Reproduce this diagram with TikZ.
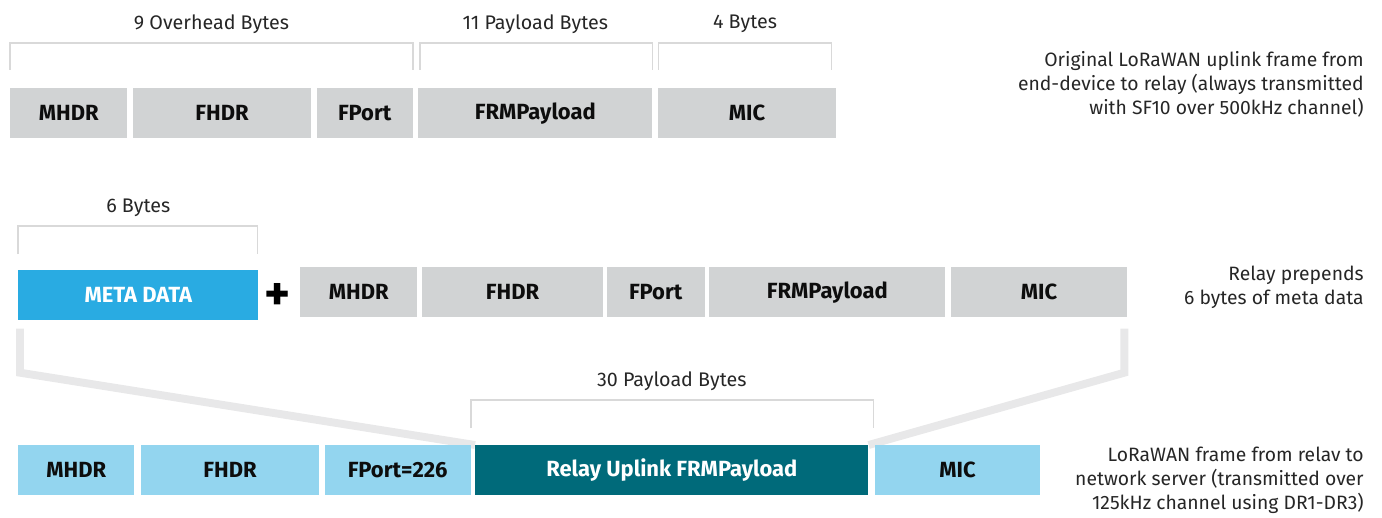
\documentclass[tikz,border=0pt]{standalone}
\usepackage{fontspec}
\setmainfont{Fira Sans}
\usetikzlibrary{positioning,calc,backgrounds}
\definecolor{boxgray}{HTML}{D1D3D4}
\definecolor{metablue}{HTML}{29ABE2}
\definecolor{lightblue}{HTML}{93D5EF}
\definecolor{tealdark}{HTML}{006A7A}
\definecolor{brkgray}{HTML}{D9D9D9}
\definecolor{funnelgray}{HTML}{E8E8E9}

\begin{document}
\begin{tikzpicture}[x=0.02cm, y=-0.02cm,
    field/.style={anchor=north west, inner sep=0pt, minimum height=1cm, font=\fontsize{12.5}{14}\bfseries},
    grayfield/.style={field, fill=boxgray, text=black!95},
    lightfield/.style={field, fill=lightblue, text=black!95},
    metafield/.style={field, fill=metablue, text=white},
    relayfield/.style={field, fill=tealdark, text=white},
    brk/.style={draw=brkgray, line width=0.9pt},
    lbl/.style={font=\fontsize{11.2}{13}\selectfont, text=black!85},
    note/.style={anchor=east, align=right, inner sep=0pt, font=\fontsize{11}{13.6}\selectfont, text=black!85},
    funnel/.style={draw=funnelgray, line width=4.5pt}]
    \useasboundingbox (0,0) rectangle (1382,517);

    % 原始上行帧
    \node[grayfield, minimum width=2.34cm] (t1) at (10,88) {MHDR};
    \node[grayfield, minimum width=3.56cm, right=0.1cm of t1] (t2) {FHDR};
    \node[grayfield, minimum width=1.92cm, right=0.1cm of t2] (t3) {FPort};
    \node[grayfield, minimum width=4.68cm, right=0.1cm of t3] (t4) {FRMPayload};
    \node[grayfield, minimum width=3.56cm, right=0.1cm of t4] (t5) {MIC};

    \draw[brk] ($(t1.north west)+(0,-18)$) |- ($(t3.north east)+(0,-45)$) -- ($(t3.north east)+(0,-18)$);
    \draw[brk] ($(t4.north west)+(2,-18)$) |- ($(t4.north east)+(0,-45)$) -- ($(t4.north east)+(0,-18)$);
    \draw[brk] ($(t5.north west)+(1,-18)$) |- ($(t5.north east)+(-5,-45)$) -- ($(t5.north east)+(-5,-18)$);
    \node[lbl] (over) at ($(t1.north west)!0.5!(t3.north east)+(0,-64)$) {9 Overhead Bytes};
    \node[lbl] (pay1) at ($(t4.north west)!0.5!(t4.north east)+(0,-64)$) {11 Payload Bytes};
    \node[lbl] (mic1) at ($(t5.north west)!0.5!(t5.north east)+(-2,-64)$) {4 Bytes};

    \node[note] (n1) at (1364,84) {Original LoRaWAN uplink frame from\\end-device to relay (always transmitted\\with SF10 over 500kHz channel)};

    % 中继加上元数据
    \node[metafield, minimum width=4.8cm] (m0) at (18,270) {META DATA};
    \node[font=\fontsize{28}{28}\bfseries] (plus) at (278,297) {+};
    \node[grayfield, minimum width=2.34cm] (m1) at (300,267) {MHDR};
    \node[grayfield, minimum width=3.62cm, right=0.08cm of m1] (m2) {FHDR};
    \node[grayfield, minimum width=1.96cm, right=0.06cm of m2] (m3) {FPort};
    \node[grayfield, minimum width=4.72cm, right=0.08cm of m3] (m4) {FRMPayload};
    \node[grayfield, minimum width=3.52cm, right=0.1cm of m4] (m5) {MIC};

    \draw[brk] ($(m0.north west)+(0,-16)$) |- ($(m0.north east)+(-1,-44)$) -- ($(m0.north east)+(-1,-16)$);
    \node[lbl] (meta) at ($(m0.north west)!0.5!(m0.north east)+(0,-62)$) {6 Bytes};

    \node[note] (n2) at (1364,287) {Relay prepends\\6 bytes of meta data};

    % 发往网络服务器的帧
    \node[lightfield, minimum width=2.32cm] (r1) at (18,445) {MHDR};
    \node[lightfield, minimum width=3.56cm, right=0.12cm of r1] (r2) {FHDR};
    \node[lightfield, minimum width=2.92cm, right=0.1cm of r2] (r3) {FPort=226};
    \node[relayfield, minimum width=7.86cm, right=0.08cm of r3] (r4) {Relay Uplink FRMPayload};
    \node[lightfield, minimum width=3.3cm, right=0.12cm of r4] (r5) {MIC};

    \draw[brk] ($(r4.north west)+(-4,-17)$) |- ($(r4.north east)+(5,-45)$) -- ($(r4.north east)+(5,-17)$);
    \node[lbl] (pay2) at ($(r4.north west)!0.5!(r4.north east)+(0,-64)$) {30 Payload Bytes};

    \node[note] (n3) at (1364,480) {LoRaWAN frame from relav to\\network server (transmitted over\\125kHz channel using DR1-DR3)};

    % 漏斗线
    \begin{scope}[on background layer]
        \draw[funnel] ($(m0.south west)+(2,8)$) -- ++(0,44) -- (r4.north west);
        \draw[funnel] ($(m5.south east)+(-3,11)$) -- ++(0,44) -- (r4.north east);
    \end{scope}
\end{tikzpicture}
\end{document}
